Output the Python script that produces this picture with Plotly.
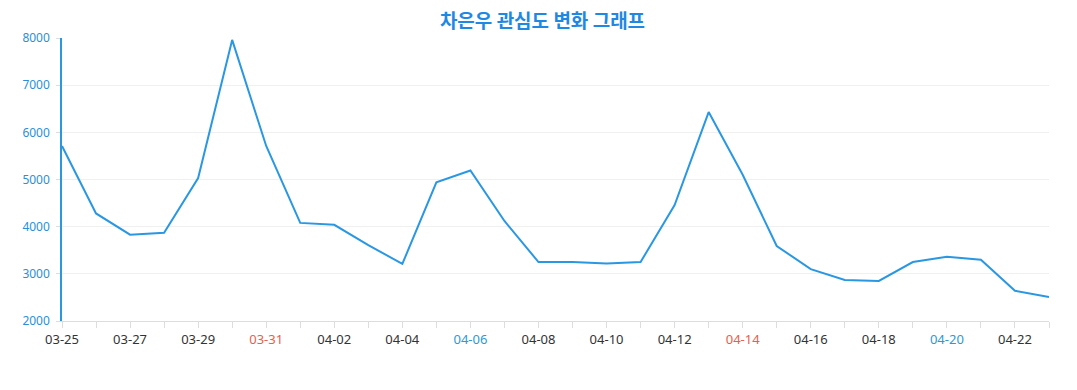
import plotly.graph_objects as go

dates = ["03-25", "03-26", "03-27", "03-28", "03-29", "03-30", "03-31",
         "04-01", "04-02", "04-03", "04-04", "04-05", "04-06", "04-07",
         "04-08", "04-09", "04-10", "04-11", "04-12", "04-13", "04-14",
         "04-15", "04-16", "04-17", "04-18", "04-19", "04-20", "04-21",
         "04-22", "04-23"]
values = [5710, 4280, 3830, 3870, 5030, 7960, 5710,
          4080, 4040, 3610, 3210, 4940, 5190, 4120,
          3250, 3250, 3220, 3250, 4460, 6430, 5100,
          3590, 3100, 2870, 2850, 3250, 3360, 3300,
          2640, 2510]
red_dates = ["03-31", "04-14"]
blue_dates = ["04-06", "04-20"]
y_ticks = [2000, 3000, 4000, 5000, 6000, 7000, 8000]

ticktext = []
for i, d in enumerate(dates):
    if i % 2 == 1:
        ticktext.append("")
    elif d in red_dates:
        ticktext.append(f"<span style='color:#e8604a'>{d}</span>")
    elif d in blue_dates:
        ticktext.append(f"<span style='color:#2a9ad8'>{d}</span>")
    else:
        ticktext.append(d)

fig = go.Figure()
fig.add_trace(go.Scatter(x=dates, y=values, mode="lines",
                         line=dict(color="#2a97e3", width=2)))

fig.update_layout(
    width=1077, height=390,
    margin=dict(l=62, r=28, t=38, b=69),
    paper_bgcolor="white", plot_bgcolor="white",
    showlegend=False,
    title=dict(text="<b>차은우 관심도 변화 그래프</b>", x=0.5 + 4 / 1077, xanchor="center",
               yref="container", y=1 - 21 / 390, yanchor="middle",
               font=dict(family="Noto Sans CJK KR", size=19, color="#1e88e5")),
    font=dict(family="Noto Sans, Open Sans, sans-serif"),
)
fig.update_xaxes(type="category", range=[0, len(dates) - 1],
                 tickmode="array", tickvals=dates, ticktext=ticktext,
                 showgrid=False, showline=True, linecolor="#dddddd", linewidth=1,
                 ticks="outside", ticklen=6, tickcolor="#dddddd",
                 tickfont=dict(size=13, color="#333333"), zeroline=False)
fig.update_yaxes(range=[2000, 8000], tickvals=y_ticks,
                 showgrid=True, gridcolor="#f0f0f0",
                 showline=True, linecolor="#2a97e3", linewidth=1.5,
                 ticks="outside", ticklen=4, tickcolor="#dddddd",
                 ticklabelstandoff=4,
                 tickfont=dict(size=12, color="#2a8fd8"), zeroline=False)

fig.write_html("out.html", config={"displayModeBar": False},
               post_script="document.body.style.margin='0';")
